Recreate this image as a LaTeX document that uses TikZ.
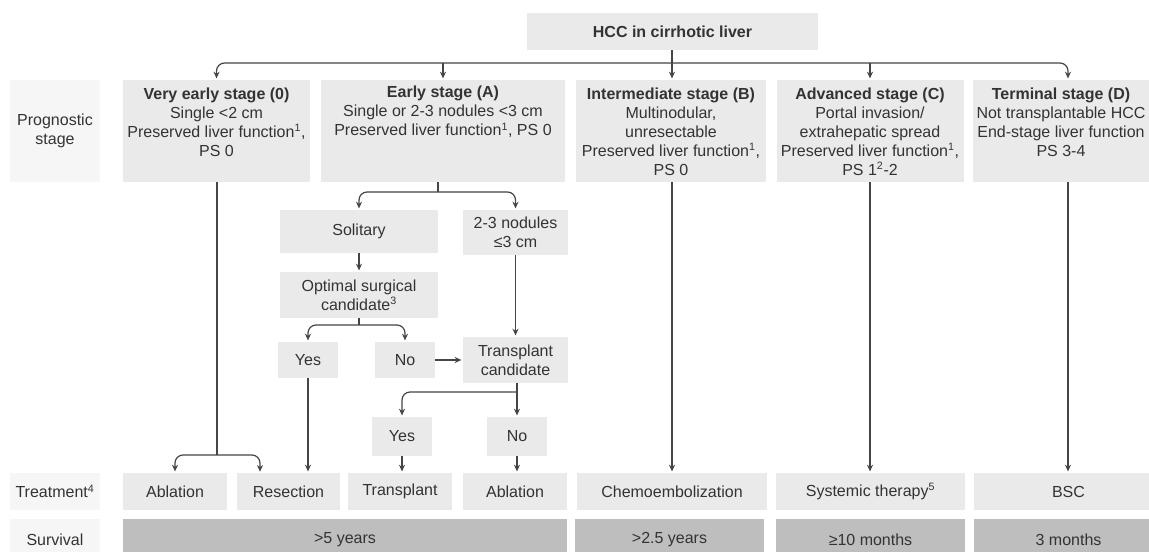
\documentclass[tikz,border=0pt]{standalone}
\usepackage{fontspec}
\setmainfont{Liberation Sans}
\usetikzlibrary{arrows.meta,calc}
\definecolor{boxc}{HTML}{EAEAEA}
\definecolor{lblc}{HTML}{F6F6F6}
\definecolor{survc}{HTML}{BEBEBE}
\definecolor{txt}{HTML}{333333}
\definecolor{ln}{HTML}{454545}
\begin{document}
\begin{tikzpicture}[x=0.75pt,y=-0.75pt,
  font=\fontsize{12}{14.3}\selectfont, text=txt,
  bx/.style 2 args={minimum width=#1*0.75pt, minimum height=#2*0.75pt},
  stagebox/.style={fill=boxc, draw=none, inner sep=0pt, align=center},
  lblbox/.style={fill=lblc, draw=none, inner sep=0pt, align=center},
  survbox/.style={fill=survc, draw=none, inner sep=0pt, align=center},
  txtn/.style={align=center, inner sep=0pt},
  conn/.style={draw=ln, line width=0.9pt},
  arr/.style={conn, -{Stealth[length=5pt,width=4.5pt]}, shorten >=1pt},
  rc/.style={rounded corners=6pt}]
\useasboundingbox (0,0) rectangle (1149,552);
\clip (0,0) rectangle (1149,552);
\fill[white] (0,0) rectangle (1149,552);

% top
\node[stagebox, bx={291}{37}] (hcc) at (672.5,31.5) {\textbf{HCC in cirrhotic liver}};

% row labels
\node[lblbox, bx={90}{102}] (lprog) at (55,131) {Prognostic\\stage};
\node[lblbox, bx={90}{37}] (ltreat) at (55,491.5) {Treatment\textsuperscript{4}};
\node[lblbox, bx={90}{41}] (lsurv) at (55,539.5) {Survival};

% stage boxes
\node[stagebox, bx={187}{102}] (s0) at (216.5,131) {};
\node[txtn] (s0t) at (216.5,122) {\textbf{Very early stage (0)}\\Single <2 cm\\Preserved liver function\textsuperscript{1},\\PS 0};
\node[stagebox, bx={244}{102}] (sa) at (443,131) {};
\node[txtn] (sat) at (443,112) {\textbf{Early stage (A)}\\Single or 2-3 nodules <3 cm\\Preserved liver function\textsuperscript{1}, PS 0};
\node[stagebox, bx={190}{102}] (sb) at (671,131) {};
\node[txtn] (sbt) at (671,131.5) {\textbf{Intermediate stage (B)}\\Multinodular,\\unresectable\\Preserved liver function\textsuperscript{1},\\PS 0};
\node[stagebox, bx={187}{102}] (sc) at (870,131) {};
\node[txtn] (sct) at (870,131.5) {\textbf{Advanced stage (C)}\\Portal invasion/\\extrahepatic spread\\Preserved liver function\textsuperscript{1},\\PS 1\textsuperscript{2}-2};
\node[stagebox, bx={190}{102}] (sd) at (1068,131) {};
\node[txtn] (sdt) at (1061,122) {\textbf{Terminal stage (D)}\\Not transplantable HCC\\End-stage liver function\\PS 3-4};

% early stage sub-tree
\node[stagebox, bx={158}{43}] (sol) at (359,231.5) {Solitary};
\node[stagebox, bx={105}{45}] (nod) at (515.5,232.5) {2-3 nodules\\≤3 cm};
\node[stagebox, bx={158}{46}] (opt) at (359,295) {Optimal surgical\\candidate\textsuperscript{3}};
\node[stagebox, bx={60}{36}] (yes1) at (308,360) {Yes};
\node[stagebox, bx={60}{36}] (no1) at (405,360) {No};
\node[stagebox, bx={105}{46}] (tc) at (515.5,360) {Transplant\\candidate};
\node[stagebox, bx={60}{39}] (yes2) at (402,436.5) {Yes};
\node[stagebox, bx={60}{39}] (no2) at (517,436.5) {No};

% treatment row
\node[stagebox, bx={104}{37}] (abl1) at (175,491.5) {Ablation};
\node[stagebox, bx={103}{37}] (res) at (288.5,491.5) {Resection};
\node[stagebox, bx={104}{37}] (tra) at (400,491.5) {Transplant};
\node[stagebox, bx={104}{37}] (abl2) at (515,491.5) {Ablation};
\node[stagebox, bx={190}{37}] (chemo) at (672,491.5) {Chemoembolization};
\node[stagebox, bx={189}{37}] (sys) at (870.5,491.5) {Systemic therapy\textsuperscript{5}};
\node[stagebox, bx={189}{37}] (bsc) at (1068.5,491.5) {BSC};

% survival row
\node[survbox, bx={444}{41}] (sv5) at (345,539.5) {>5 years};
\node[survbox, bx={189}{41}] (sv25) at (669.5,539.5) {>2.5 years};
\node[survbox, bx={189}{41}] (sv10) at (870.5,539.5) {≥10 months};
\node[survbox, bx={189}{41}] (sv3) at (1068.5,539.5) {3 months};

% coordinates
\coordinate (bus) at (672,63);
\coordinate (saS) at (438,192);
\coordinate (optS) at (359,325);
\coordinate (tcS) at (517,392);
\coordinate (v0S) at (217,455);
\coordinate (resA) at (260,473);

% top connectors
\draw[arr] (hcc.south -| bus) -- (bus |- sb.north);
\draw[arr, rc] (bus) -| (s0.north);
\draw[arr, rc] (bus) -| (sd.north);
\draw[arr] (sa.north |- bus) -- (sa.north);
\draw[arr] (sc.north |- bus) -- (sc.north);

% early stage split
\draw[conn] (sa.south -| saS) -- (saS);
\draw[arr, rc] (saS) -| (sol.north);
\draw[arr, rc] (saS) -| (nod.north);
\draw[arr] (sol.south) -- (opt.north);
\draw[conn] (opt.south) -- (optS);
\draw[arr, rc] (optS) -| (yes1.north);
\draw[arr, rc] (optS) -| (no1.north);
\draw[arr] (no1.east) -- (tc.west);
\draw[arr] (nod.south) -- (tc.north);
\draw[conn] (tc.south -| tcS) -- (tcS);
\draw[arr, rc] (tcS) -| (yes2.north);
\draw[arr] (tcS) -- (no2.north);

% to treatments
\draw[conn] (s0.south -| v0S) -- (v0S);
\draw[arr, rc] (v0S) -| (abl1.north);
\draw[arr, rc] (v0S) -| (resA);
\draw[arr] (yes1.south) -- (yes1.south |- res.north);
\draw[arr] (yes2.south) -- (yes2.south |- tra.north);
\draw[arr] (no2.south) -- (no2.south |- abl2.north);
\draw[arr] (sb.south -| chemo.north) -- (chemo.north);
\draw[arr] (sc.south) -- (sc.south |- sys.north);
\draw[arr] (sd.south) -- (sd.south |- bsc.north);
\end{tikzpicture}
\end{document}
